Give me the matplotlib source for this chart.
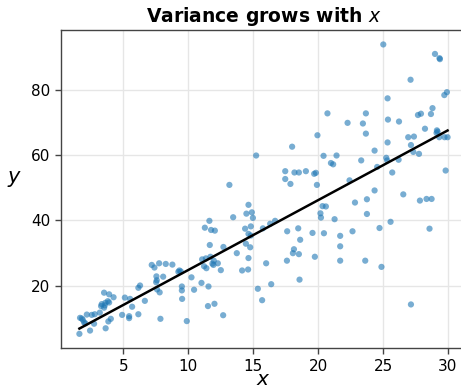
import matplotlib
matplotlib.use("Agg")
import matplotlib.pyplot as plt
import numpy as np

# x / y samples, noise spreads out as x gets larger
x = np.array([
    1.62, 1.67, 1.80, 1.88, 1.98, 2.08, 2.19, 2.44, 2.57, 2.75, 2.80,
    3.19, 3.29, 3.34, 3.52, 3.52, 3.57, 3.62, 3.64, 3.81, 3.85, 3.91, 3.91, 4.04, 4.25,
    4.91, 5.12, 5.45, 5.45, 5.52, 5.68, 6.16, 6.16, 6.29, 6.66,
    7.19, 7.40, 7.53, 7.55, 7.58, 7.60, 7.76, 7.80, 7.86, 8.07, 8.27, 8.78,
    9.24, 9.32, 9.43, 9.51, 9.51, 9.53, 9.89, 10.25, 10.45,
    11.02, 11.07, 11.22, 11.28, 11.36, 11.40, 11.52, 11.56, 11.63, 11.66, 11.71,
    11.76, 11.86, 11.94, 11.97, 12.02, 12.05, 12.28, 12.51, 12.69, 12.71,
    13.17, 13.46, 13.74, 14.15, 14.38, 14.44, 14.48, 14.61, 14.64, 14.64, 14.64,
    14.77, 14.82, 14.82, 14.90, 14.98, 15.23, 15.36, 15.69, 15.75, 16.00, 16.31,
    16.39, 16.69, 17.47, 17.47, 17.60, 17.62, 17.87, 18.00, 18.06, 18.14, 18.18,
    18.47, 18.52, 18.52, 18.57, 18.62, 19.06, 19.57, 19.70, 19.75, 19.83, 19.91, 19.95,
    20.18, 20.22, 20.34, 20.42, 20.45, 20.60, 20.72, 20.99, 21.16, 21.27, 21.42,
    21.70, 21.70, 21.70, 22.27, 22.42, 22.65, 22.84, 23.32, 23.45, 23.63, 23.68,
    23.68, 23.76, 23.76, 24.35, 24.35, 24.55, 24.73, 24.88, 25.02, 25.25, 25.32,
    25.35, 25.35, 25.38, 25.58, 25.71, 26.20, 26.23, 26.56, 26.94, 27.12, 27.15,
    27.15, 27.33, 27.38, 27.69, 27.77, 27.84, 27.92, 28.23, 28.35, 28.58, 28.69,
    28.74, 28.81, 29.00, 29.12, 29.15, 29.20, 29.33, 29.35, 29.38, 29.72, 29.74,
    29.82, 29.92, 29.97,
])
y = np.array([
    5.2, 10.1, 9.9, 9.5, 8.7, 8.4, 11.1, 6.2, 11.0, 8.3, 11.2,
    11.7, 13.7, 14.3, 17.8, 13.2, 13.9, 14.7, 6.9, 15.2, 9.0, 17.3, 14.8, 9.8, 16.4,
    11.0, 16.3, 10.6, 10.0, 15.9, 13.5, 11.2, 19.3, 20.0, 15.3,
    26.3, 25.5, 21.0, 22.8, 21.6, 18.8, 26.8, 17.9, 9.8, 22.7, 26.6, 26.4,
    24.2, 24.6, 24.3, 19.7, 18.5, 15.9, 9.1, 22.5, 18.7,
    20.8, 28.0, 25.9, 37.7, 28.3, 25.3, 13.7, 19.7, 39.8, 32.4, 28.8,
    37.0, 26.7, 26.3, 27.6, 14.4, 36.8, 26.8, 24.7, 10.9, 31.8,
    50.8, 40.9, 29.9, 24.6, 37.4, 32.8, 42.0, 24.9, 28.4, 35.8, 44.7,
    31.7, 35.3, 38.1, 42.4, 40.7, 59.8, 19.0, 15.5, 37.5, 26.8, 38.9,
    20.4, 39.8, 55.0, 52.6, 27.6, 36.6, 51.1, 62.5, 29.9, 31.1, 54.6,
    37.5, 54.6, 29.6, 21.8, 34.0, 55.0, 36.1, 54.2, 28.8, 54.5, 50.8, 66.0,
    42.1, 40.8, 44.3, 59.7, 36.0, 44.2, 72.7, 57.5, 57.1, 40.3, 59.8,
    35.2, 32.0, 27.6, 69.8, 52.2, 36.6, 45.4, 58.3, 69.6, 27.6, 72.7,
    66.5, 46.4, 41.9, 61.3, 49.1, 56.3, 37.6, 25.7, 93.8, 59.1, 58.3,
    77.3, 63.8, 70.8, 39.5, 54.6, 58.5, 70.2, 47.9, 65.4, 83.0, 63.0,
    14.2, 60.9, 65.6, 72.2, 60.3, 46.0, 72.6, 68.0, 46.5, 37.4, 72.5,
    46.5, 74.3, 90.9, 66.7, 67.5, 67.1, 65.4, 89.6, 89.3, 78.3, 65.4,
    55.2, 79.2, 65.4,
])

# least squares line
slope, intercept = np.polyfit(x, y, 1)
xs = np.array([x.min(), x.max()])

fig = plt.figure(figsize=(4.61, 3.90), dpi=100)
ax = fig.add_axes([0.1323, 0.1069, 0.8785, 0.8162])

ax.scatter(x, y, s=20, color="#1f77b4", alpha=0.6, edgecolors="none", zorder=2)
ax.plot(xs, intercept + slope * xs, color="black", lw=1.8, zorder=3)

ax.set_xticks([5, 10, 15, 20, 25, 30])
ax.set_yticks([20, 40, 60, 80])
ax.grid(True, color="#e6e6e6", lw=1.0, zorder=0)
ax.set_axisbelow(True)

for side in ["left", "bottom", "top", "right"]:
    ax.spines[side].set_color("#444444")
    ax.spines[side].set_linewidth(1.0)
ax.tick_params(axis="both", labelsize=11, length=4, width=1, color="#444444")

ax.set_title("Variance grows with $x$", fontsize=13.5, fontweight="bold")
ax.set_xlabel("$x$", fontsize=14.5, labelpad=-3)
ax.set_ylabel("$y$", fontsize=15, rotation=0, labelpad=12)

fig.savefig("out.png", dpi=100)
